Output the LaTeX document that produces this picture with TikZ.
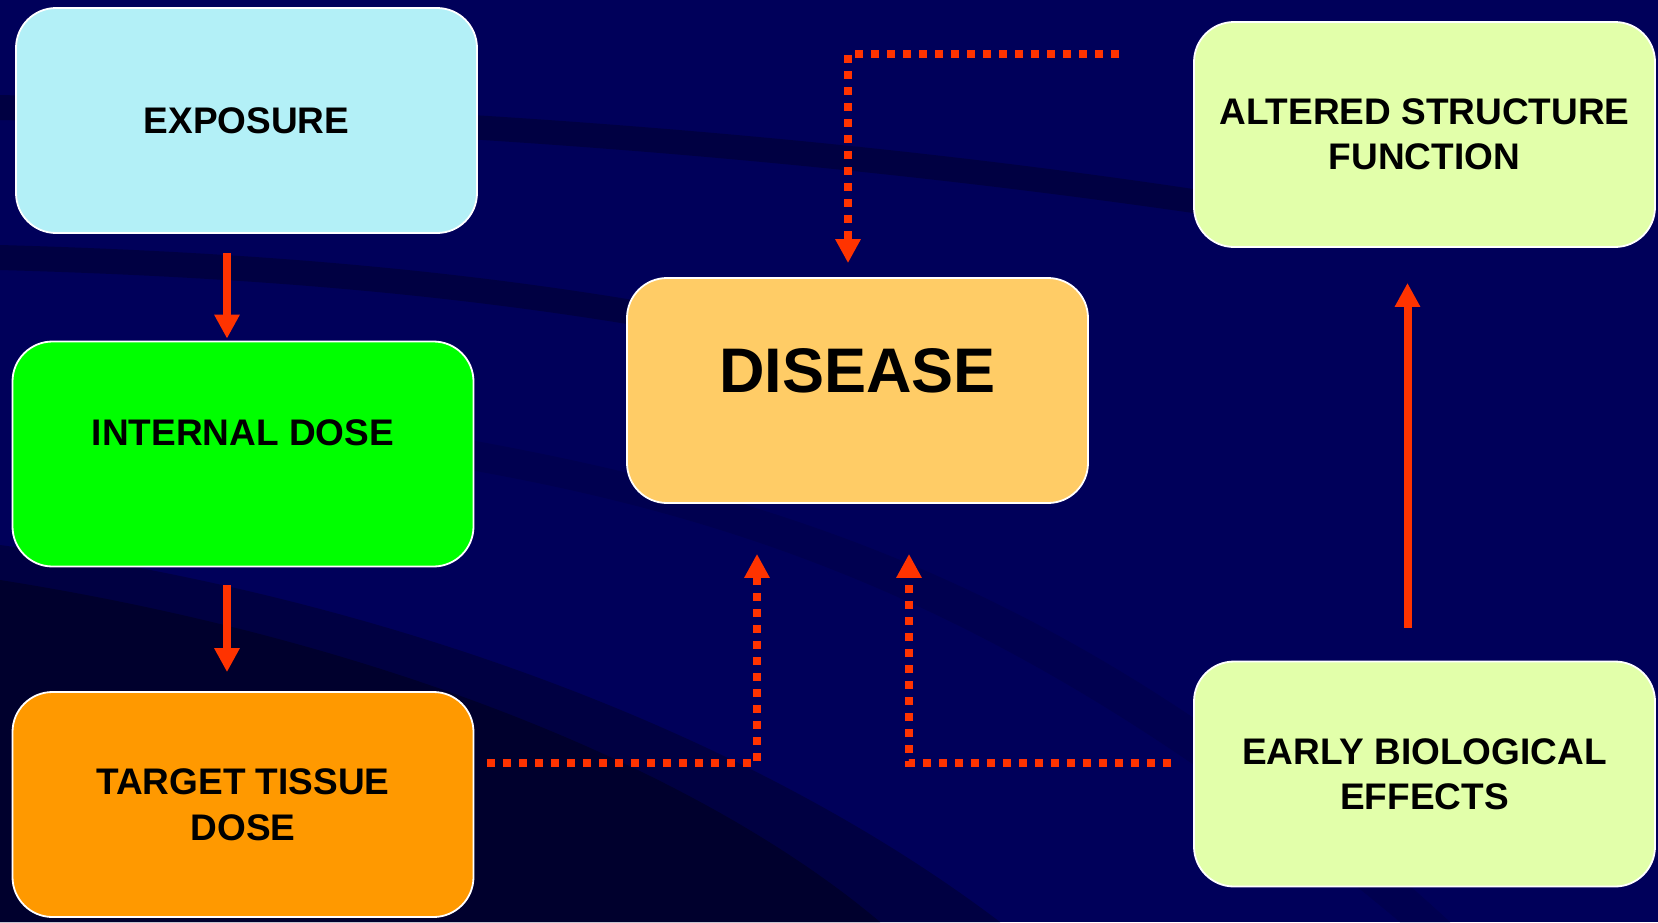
\documentclass[tikz,border=0pt]{standalone}
\usepackage{fontspec}
\setmainfont{Liberation Sans}
\usetikzlibrary{arrows.meta}
\definecolor{navy}{RGB}{0,0,90}
\definecolor{navyshade}{RGB}{0,0,66}
\definecolor{navyfaint}{RGB}{0,0,80}
\definecolor{navydeep}{RGB}{0,0,45}
\definecolor{arrowred}{RGB}{255,51,0}
\definecolor{expcyan}{RGB}{179,240,247}
\definecolor{intgreen}{RGB}{0,255,0}
\definecolor{tgtorange}{RGB}{255,153,0}
\definecolor{disorange}{RGB}{255,204,102}
\definecolor{effgreen}{RGB}{226,255,170}
\begin{document}
\begin{tikzpicture}[x=1pt,y=-1pt,
    box/.style={draw=white, line width=1.8pt, rounded corners=40pt,
      minimum width=461pt, minimum height=225pt, inner sep=0pt,
      align=center, text=black, font=\fontsize{37}{45.5}\selectfont\bfseries},
    arr/.style={draw=arrowred, line width=8pt, -{Triangle[width=24pt,length=24pt]}},
    dotarr/.style={arr, dash pattern=on 8pt off 8pt}]
        % Background
        \fill[navy] (0,0) rectangle (1658,922);
        \useasboundingbox (0,0) rectangle (1658,922);
        \begin{scope}
        \clip (0,0) rectangle (1658,922);
        \fill[navyshade] (0,95) .. controls (400,105) and (800,130) .. (1200,190)
            -- (1200,214) .. controls (800,156) and (400,128) .. (0,120) -- cycle;
        \fill[navyshade] (0,245) .. controls (350,255) and (650,285) .. (1000,380)
            -- (1000,405) .. controls (650,310) and (350,280) .. (0,270) -- cycle;
        \fill[navyfaint] (470,440) .. controls (800,500) and (1100,600) .. (1450,922)
            -- (1400,922) .. controls (1050,630) and (780,525) .. (470,470) -- cycle;
        \fill[navyshade] (0,545) .. controls (400,600) and (760,740) .. (1000,922) -- (0,922) -- cycle;
        \fill[navydeep] (0,580) .. controls (380,640) and (700,770) .. (880,922) -- (0,922) -- cycle;
        \end{scope}

        % Boxes
        \node[box, fill=expcyan] (exposure) at (246.5,120.5) {EXPOSURE};
        \node[box, fill=intgreen, text height=27pt, text depth=43.5pt] (internal) at (243,454) {INTERNAL DOSE};
        \node[box, fill=tgtorange] (target) at (243,804.5) {TARGET TISSUE\\DOSE};
        \node[box, fill=disorange, font=\fontsize{63}{70}\selectfont\bfseries,
            text height=46pt, text depth=43pt] (disease) at (857.5,390.5) {DISEASE};
        \node[box, fill=effgreen] (altered) at (1424.5,134.5) {ALTERED STRUCTURE\\FUNCTION};
        \node[box, fill=effgreen] (early) at (1424.5,774) {EARLY BIOLOGICAL\\EFFECTS};

        % Solid arrows
        \coordinate (lx) at (227,0);
        \draw[arr, shorten <=19pt, shorten >=2pt] (exposure.south -| lx) -- (internal.north -| lx);
        \draw[arr, shorten <=18pt, shorten >=19pt] (internal.south -| lx) -- (target.north -| lx);
        \draw[arr, shorten <=33pt, shorten >=35pt] ([xshift=-17pt]early.north) -- ([xshift=-17pt]altered.south);

        % Dotted arrows
        \coordinate (topend) at (1119,54);
        \draw[dotarr, shorten >=14pt] (topend) -| ([xshift=-9.5pt]disease.north);
        \draw[dotarr, shorten <=13pt, shorten >=50pt] ([yshift=41.5pt]target.east) -| ([xshift=-100.5pt]disease.south);
        \draw[dotarr, shorten <=22pt, shorten >=50pt] ([yshift=11pt]early.west) -| ([xshift=51.5pt]disease.south);
\end{tikzpicture}
\end{document}
